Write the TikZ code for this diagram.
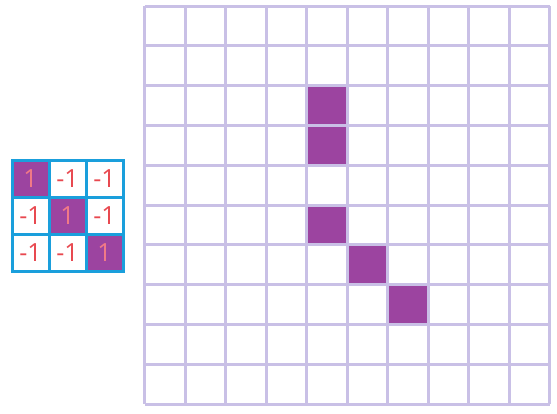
\documentclass[tikz,border=0pt]{standalone}
\usepackage{fontspec}
\setmainfont{Open Sans}
\definecolor{gridc}{HTML}{C9C0E6}
\definecolor{purp}{HTML}{9C44A0}
\definecolor{bluec}{HTML}{1A9FDC}
\definecolor{redc}{HTML}{E8484F}
\definecolor{pinkc}{HTML}{F27A86}
\begin{document}
\begin{tikzpicture}[x=1pt,y=-1pt,
  gridline/.style={draw=gridc,line width=3pt},
  kcell/.style={draw=bluec,line width=3pt,minimum width=37pt,minimum height=37pt,inner sep=0pt,anchor=north west,font=\fontsize{25}{25}\selectfont,text=redc},
  kfill/.style={kcell,fill=purp,text=pinkc}]
\useasboundingbox (0,0) rectangle (557,413);
% big grid filled cells
\foreach \c/\r in {4/2,4/3,4/5,5/6,6/7}{
  \fill[purp] ({144.5+40.5*\c},{6+39.8*\r}) rectangle ++(40.5,39.8);
}
\foreach \i in {0,...,10}{
  \draw[gridline] ({144.5+40.5*\i},6) -- ({144.5+40.5*\i},404);
  \draw[gridline] (144.5,{6+39.8*\i}) -- (550,{6+39.8*\i});
}
% kernel
\node[kfill] (k00) at (10.5,158.5) {1};
\node[kcell] (k01) at (47.5,158.5) {-1};
\node[kcell] (k02) at (84.5,158.5) {-1};
\node[kcell] (k10) at (10.5,195.5) {-1};
\node[kfill] (k11) at (47.5,195.5) {1};
\node[kcell] (k12) at (84.5,195.5) {-1};
\node[kcell] (k20) at (10.5,232.5) {-1};
\node[kcell] (k21) at (47.5,232.5) {-1};
\node[kfill] (k22) at (84.5,232.5) {1};
\end{tikzpicture}
\end{document}
